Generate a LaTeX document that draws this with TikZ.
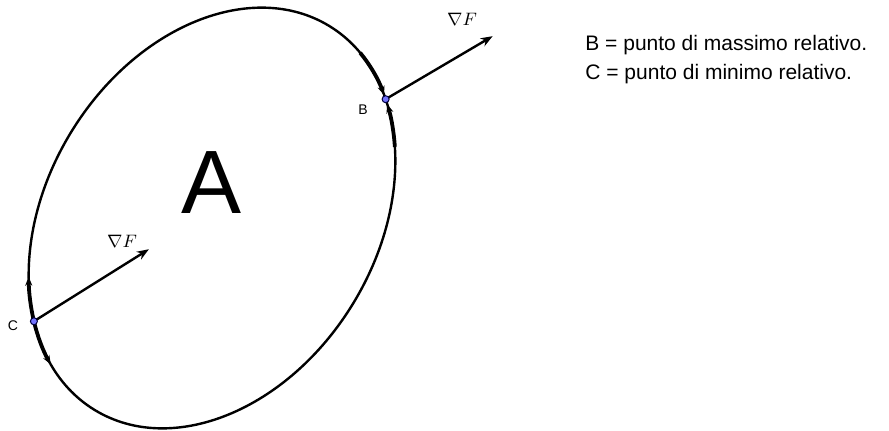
\documentclass[tikz,border=0pt]{standalone}
\usepackage{amsmath,amssymb}
\usepackage{fontspec}
\setmainfont{Liberation Sans}
\usetikzlibrary{arrows.meta,positioning,calc}

\begin{document}
\begin{tikzpicture}[
    x=0.5pt, y=0.5pt, >=Stealth,
    boundary_line/.style={line width=1.2pt},
    flow_arrow/.style={line width=1.9pt, -{Stealth[length=4.5pt,width=3.5pt]}},
    grad_arrow/.style={line width=1.2pt, -{Stealth[length=6pt,width=4.5pt]}},
    crit_point/.style={circle, draw=black!75!blue, fill=blue!55, line width=0.5pt, inner sep=0pt, minimum size=3.5pt},
    pt_lbl/.style={font=\fontsize{7}{8}\selectfont, inner sep=0pt},
    grad_lbl/.style={font=\fontsize{9}{10}\selectfont, inner sep=0pt},
    legend_lbl/.style={font=\fontsize{10.5}{12}\selectfont, anchor=west, inner sep=0pt}
]
    \useasboundingbox (0,0) rectangle (889,430);

    % Boundary of the domain A
    \begin{scope}[shift={(212,212)}, rotate=58.5]
        \draw[boundary_line] (0,0) ellipse [x radius=225, y radius=165];
        \coordinate (B) at (-31.4:225 and 165);
        \coordinate (C) at (143.6:225 and 165);
        % Direction of growth along the boundary
        \draw[flow_arrow] (-14:225 and 165) arc[start angle=-14, end angle=-30, x radius=225, y radius=165];
        \draw[flow_arrow] (-46:225 and 165) arc[start angle=-46, end angle=-33, x radius=225, y radius=165];
        \draw[flow_arrow] (C) arc[start angle=143.6, end angle=130.4, x radius=225, y radius=165];
        \draw[flow_arrow] (C) arc[start angle=143.6, end angle=158.3, x radius=225, y radius=165];
    \end{scope}

    % Gradient vectors
    \coordinate (gradB_tip) at ($(B)+(107,63)$);
    \coordinate (gradC_tip) at ($(C)+(115,72)$);
    \draw[grad_arrow] (B) -- (gradB_tip);
    \draw[grad_arrow] (C) -- (gradC_tip);

    % Critical points
    \node[crit_point] (ptB) at (B) {};
    \node[crit_point] (ptC) at (C) {};

    % Labels
    \node[font=\fontsize{45}{45}\selectfont, inner sep=0pt] (lbl_A) at (212,247) {A};
    \node[pt_lbl] (lbl_B) at (363,320) {B};
    \node[pt_lbl] (lbl_C) at (13,104) {C};
    \node[grad_lbl] (lbl_gradB) at (462,411) {$\nabla F$};
    \node[grad_lbl] (lbl_gradC) at (122,189) {$\nabla F$};

    % Legend
    \node[legend_lbl] (leg_max) at (585,385) {B = punto di massimo relativo.};
    \node[legend_lbl] (leg_min) at (585,356) {C = punto di minimo relativo.};
\end{tikzpicture}
\end{document}
